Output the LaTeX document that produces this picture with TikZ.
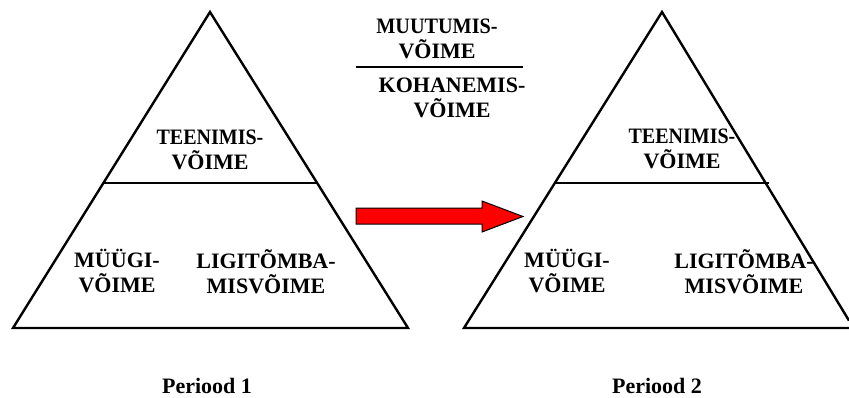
\documentclass[tikz,border=0pt]{standalone}
\usepackage{fontspec}
\setmainfont{Liberation Serif}
\newfontfamily\lsbold{Liberation Serif Bold}
\newcommand\twolines[2]{\begin{tabular}[t]{@{}c@{}}#1\\#2\end{tabular}}
\newcommand\lblfont{\lsbold\fontsize{22}{23}\selectfont}
\newcommand\mlblfont{\lsbold\fontsize{22}{21.5}\selectfont}
\begin{document}
\begin{tikzpicture}[x=1pt,y=-1pt,
  lbl/.style={inner sep=0pt, anchor=base},
  tri/.style={line width=2.4pt, line join=miter},
  divider/.style={line width=1.6pt},
  bigarrow/.style={fill=red, draw=black, line width=1pt, line join=miter}]
\useasboundingbox (0,0) rectangle (849,397);
% left pyramid
\coordinate (LA) at (210,12);
\coordinate (LL) at (13,328);
\coordinate (LR) at (408,328);
\coordinate (LM1) at (103,183);
\coordinate (LM2) at (317,183);
\draw[tri] (LA) -- (LR) -- (LL) -- cycle;
\draw[divider] (LM1) -- (LM2);
% right pyramid (cut off at the right edge)
\coordinate (RA) at (662,12);
\coordinate (RL) at (464,328);
\coordinate (RR) at (849,328);
\coordinate (RE) at (849,320.6);
\coordinate (RM1) at (555,183);
\coordinate (RM2) at (769,183);
\draw[tri] (RE) -- (RA) -- (RL) -- (RR);
\draw[divider] (RM1) -- (RM2);
% labels left
\node[lbl] (lteen) at (210,144) {\lblfont\twolines{\scalebox{0.91}[1]{TEENIMIS-}}{VÕIME}};
\node[lbl] (lmyyk) at (117,267) {\lblfont\twolines{MÜÜGI-}{VÕIME}};
\node[lbl] (lligi) at (266,268) {\lblfont\twolines{LIGITÕMBA-}{MISVÕIME}};
% labels right
\node[lbl] (rteen) at (682,143) {\lblfont\twolines{\scalebox{0.91}[1]{TEENIMIS-}}{VÕIME}};
\node[lbl] (rmyyk) at (567,267) {\lblfont\twolines{MÜÜGI-}{VÕIME}};
\node[lbl] (rligi) at (744,268) {\lblfont\twolines{LIGITÕMBA-}{MISVÕIME}};
% middle fraction
\node[lbl] (muut) at (437,33) {\mlblfont\twolines{\scalebox{0.92}[1]{MUUTUMIS-}}{VÕIME}};
\coordinate (fl) at (356,67);
\coordinate (fr) at (523,67);
\draw[divider] (fl) -- (fr);
\node[lbl] (kohan) at (452,92) {\mlblfont\twolines{KOHANEMIS-}{VÕIME}};
% arrow
\draw[bigarrow] (356,208) -- (482,208) -- (482,201) -- (523,216.5) -- (482,232) -- (482,224) -- (356,224) -- cycle;
% period labels
\node[lbl] (p1) at (207,393) {\lblfont Periood 1};
\node[lbl] (p2) at (657,393) {\lblfont Periood 2};
\end{tikzpicture}
\end{document}
